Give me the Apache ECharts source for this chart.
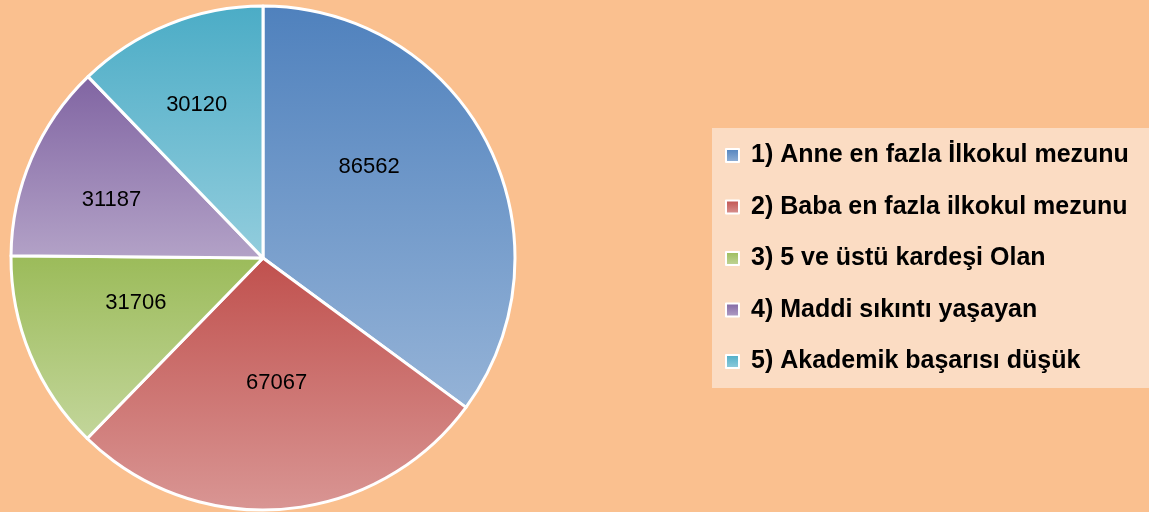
<!DOCTYPE html>
<html>
<head>
<meta charset="utf-8">
<script src="https://cdn.jsdelivr.net/npm/echarts@6/dist/echarts.min.js"></script>
<style>
  html, body { margin: 0; padding: 0; background: #fac08f; }
  #chart { width: 1149px; height: 512px; }
</style>
</head>
<body>
<div id="chart"></div>
<script>
// categories and values
var categories = [
  "1) Anne en fazla İlkokul mezunu",
  "2) Baba en fazla ilkokul mezunu",
  "3) 5 ve üstü kardeşi Olan",
  "4) Maddi sıkıntı yaşayan",
  "5) Akademik başarısı düşük"
];
var values = [86562, 67067, 31706, 31187, 30120];

// dark (top) / light (bottom) for each slice
var topColors = ["#4f81bd", "#c0504d", "#9bbb59", "#8064a2", "#4bacc6"];
var bottomColors = ["#95b3d7", "#d99694", "#c3d69b", "#b3a2c7", "#93cddd"];

var chart = echarts.init(document.getElementById("chart"));

// nudge the value labels to where the original chart put them
var labelNudge = [[-9, -33], [3, -4], [-8, -5], [-33, -7], [-18, -33]];

var pieData = values.map(function (v, i) {
  return {
    name: categories[i],
    value: v,
    label: { offset: labelNudge[i] },
    itemStyle: {
      color: new echarts.graphic.LinearGradient(0, 0, 0, 1, [
        { offset: 0, color: topColors[i] },
        { offset: 1, color: bottomColors[i] }
      ])
    }
  };
});

var option = {
  backgroundColor: "#fac08f",
  animation: false,
  legend: {
    orient: "vertical",
    left: 712,
    top: 128,
    padding: [13, 60, 12, 13],
    backgroundColor: "#fbdcc3",
    icon: "rect",
    itemWidth: 13,
    itemHeight: 13,
    itemGap: 22.5,
    itemStyle: { borderColor: "#ffffff", borderWidth: 2 },
    textStyle: {
      fontFamily: "Liberation Sans",
      fontWeight: "bold",
      fontSize: 25,
      lineHeight: 29,
      padding: [0, 0, 0, 7],
      color: "#000000"
    },
    data: categories
  },
  series: [
    {
      type: "pie",
      center: [263, 258],
      radius: 252,
      startAngle: 90,
      clockwise: true,
      silent: true,
      itemStyle: { borderColor: "#ffffff", borderWidth: 3 },
      label: {
        position: "inside",
        fontFamily: "Liberation Sans",
        fontSize: 22,
        color: "#000000",
        formatter: "{c}"
      },
      labelLine: { show: false },
      data: pieData
    }
  ]
};

chart.setOption(option);
</script>
</body>
</html>
